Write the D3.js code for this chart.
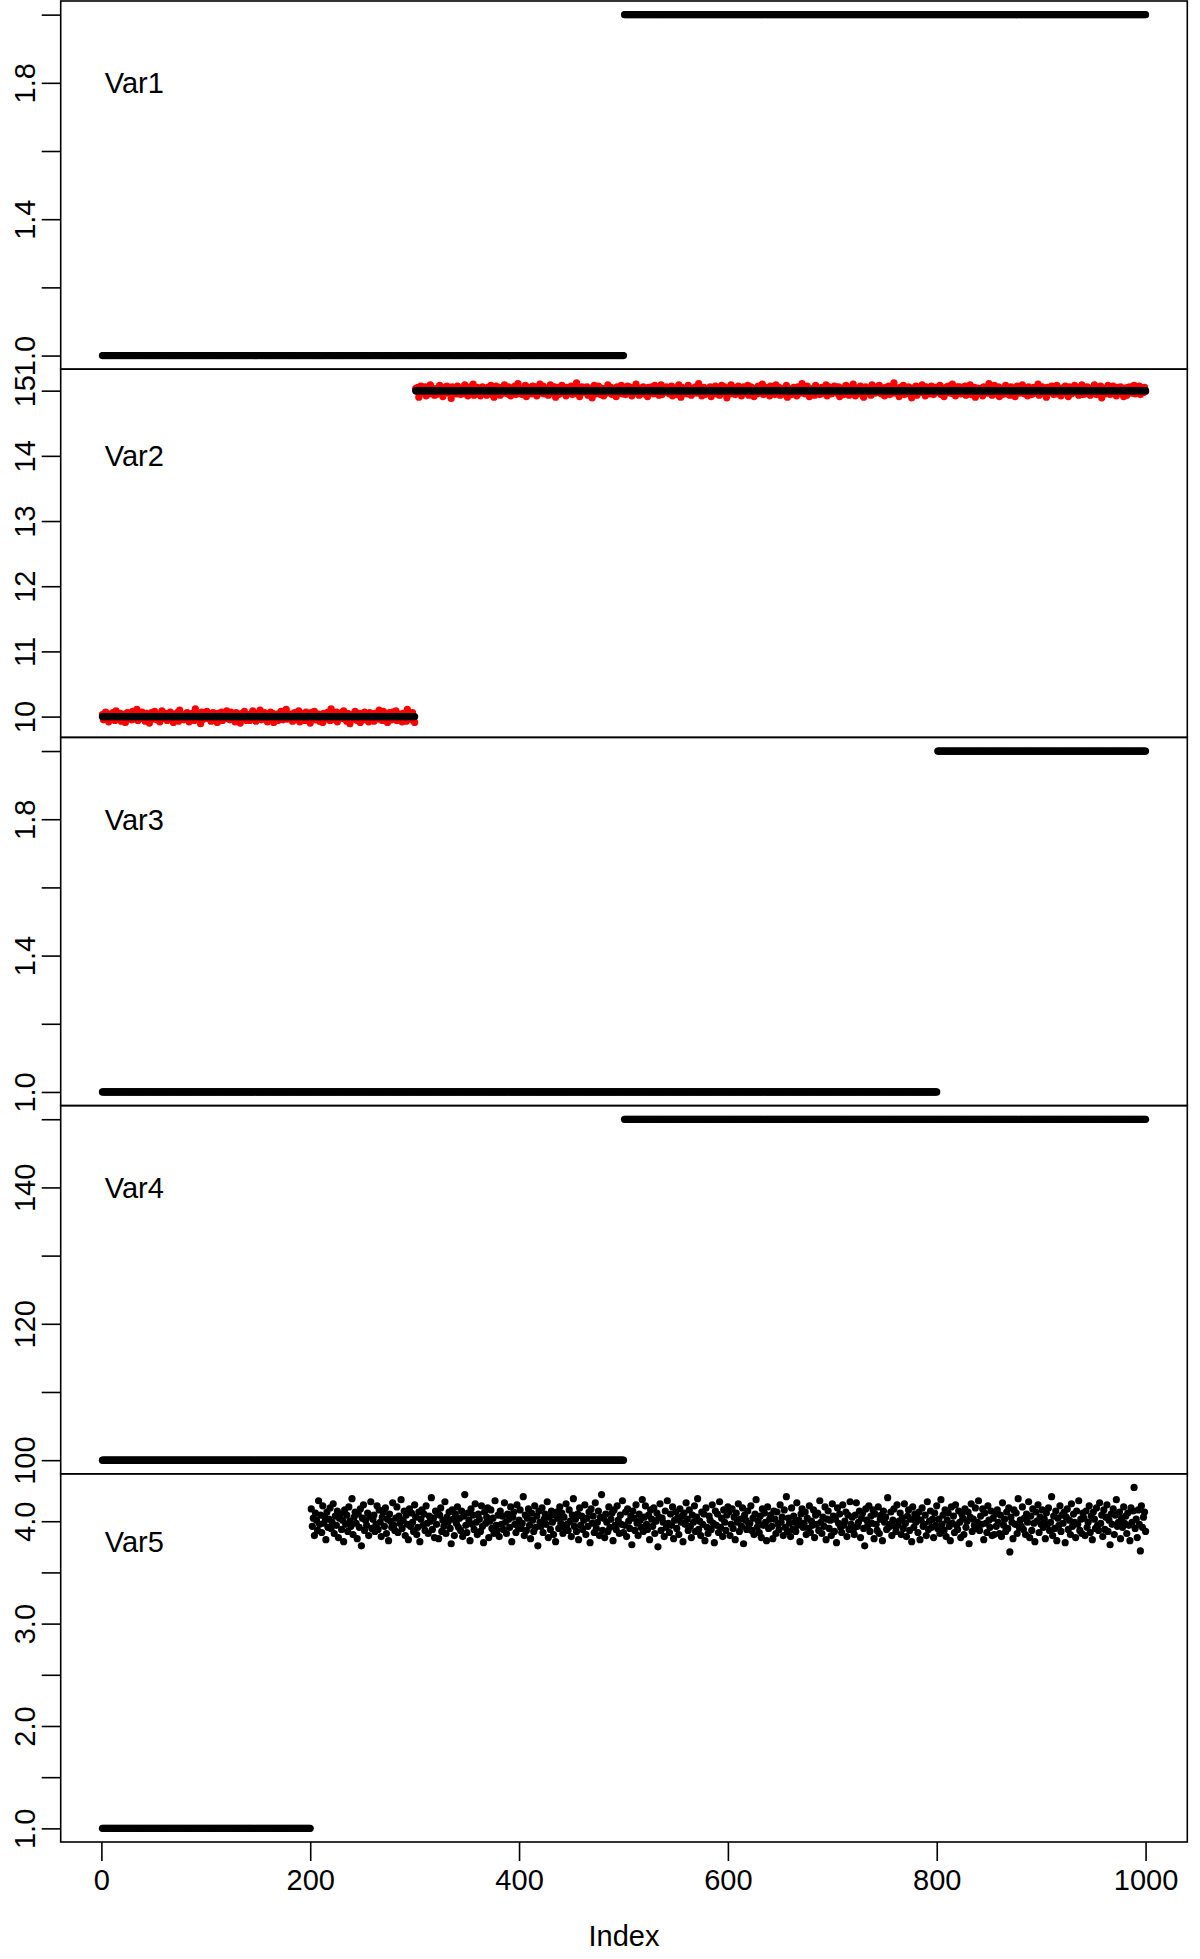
<!DOCTYPE html>
<html>
<head>
<meta charset="utf-8">
<script src="https://cdn.jsdelivr.net/npm/d3@7"></script>
<style>
  body { margin: 0; background: #fff; }
  text { font-family: "Liberation Sans", Arial, Helvetica, sans-serif; }
</style>
</head>
<body>
<div id="chart"></div>
<script>
const n = 1000;
const seriesNames = ['Var1', 'Var2', 'Var3', 'Var4', 'Var5'];

// runs of constant level: index where each run starts, and its value
const var1Starts = [1, 501], var1Levels = [1, 2];
const var2Starts = [1, 301], var2Levels = [10, 15];
const var3Starts = [1, 801], var3Levels = [1, 2];
const var4Starts = [1, 501], var4Levels = [100, 150];
const var5Starts = [1, 201], var5Levels = [1, 4];

// red overlay in Var2: offset from the level, in hundredths (index 1..1000)
const var2RedNoise = [
  3,-5,1,7,-2,0,-8,4,2,-3,6,-1,-6,9,1,-4,2,5,-7,0,
  -2,4,-9,1,6,-3,0,3,-5,8,-1,2,-4,11,-6,1,4,-2,7,-3,
  0,-7,5,2,-1,-10,3,6,-4,1,8,-2,-5,0,4,-8,2,9,-3,1,
  5,-1,-6,3,0,7,-4,2,-9,4,1,-3,6,-7,10,-2,0,3,-5,2,
  -4,6,1,-8,3,-2,5,0,-6,12,-1,4,-3,2,-11,7,-5,1,3,-2,
  8,-3,0,4,-7,2,6,-1,-4,3,-9,5,1,-2,7,-6,0,4,-3,9,
  -1,2,-5,7,0,-4,3,-8,6,1,-2,4,-10,2,5,-3,8,-1,-6,3,
  2,-6,4,0,9,-3,1,-7,5,-2,3,10,-5,0,-1,6,-4,2,-8,4,
  -3,7,-1,5,-9,2,0,4,-6,3,-2,8,1,-5,6,-3,11,-4,1,0,
  4,-2,-7,1,6,-5,3,-1,9,-8,2,5,-3,0,-6,7,1,-4,3,-10,
  6,0,-3,8,-5,2,-1,4,-7,3,0,-9,5,2,-4,1,7,-2,-6,12,
  -5,3,1,-2,7,-8,4,0,-3,6,-1,9,-4,2,-7,5,0,-11,3,1,
  2,-4,8,-1,-6,3,5,-9,0,4,-2,7,-5,1,3,-8,6,-3,2,-1,
  -7,5,0,3,-4,10,-2,1,-6,8,-3,0,4,-9,2,6,-1,-5,7,-2,
  1,9,-6,2,-3,4,0,-8,5,-1,3,-7,11,-4,0,2,-5,6,-2,-9,
  3,-1,5,-10,2,7,-4,1,-2,6,-8,3,0,-5,9,-3,4,1,-7,2,
  -6,4,-2,8,1,-3,-9,5,2,-1,7,-4,0,3,-12,6,-2,4,1,-5,
  7,-3,2,-6,4,0,-1,9,-5,3,-8,1,6,-2,-4,10,-7,2,0,5,
  -2,1,-8,4,6,-4,3,-1,-7,5,2,-3,8,-6,1,-10,4,7,-2,0,
  5,-7,3,0,-4,9,-1,2,-5,6,-3,-8,4,1,-2,7,-6,3,11,-4,
  0,4,-6,2,-1,8,-9,3,5,-2,1,-5,7,-3,0,6,-8,2,-4,10,
  -3,2,7,-5,1,-2,4,-7,0,9,-4,3,-1,6,-10,2,5,-6,1,-2,
  8,-1,-4,3,-8,5,0,2,-3,7,-6,1,4,-2,12,-5,3,-9,0,6,
  -1,5,-3,0,6,-7,2,-2,4,-11,3,8,-5,1,-3,7,-1,-6,4,2,
  -8,3,1,-4,9,-2,0,5,-6,2,-1,4,-9,6,3,-3,0,8,-5,1,
  4,-6,2,7,-1,-3,5,-8,1,3,-2,10,-4,0,-7,4,2,-1,6,-5,
  -4,1,-9,5,3,-2,6,-1,-5,8,0,-3,2,-7,4,9,-6,1,-2,3,
  6,-2,0,-5,3,7,-8,2,-1,4,-6,1,9,-3,-10,5,0,3,-4,-1,
  -5,8,-3,1,-7,2,4,-1,6,-4,0,11,-2,3,-8,1,5,-6,2,-3,
  1,-1,6,-9,4,0,-3,7,-5,2,3,-7,1,8,-2,-4,6,-1,-11,4,
  3,-5,9,-2,0,5,-6,1,-3,7,-1,4,-8,2,6,-4,0,-2,8,-7,
  -2,6,-1,4,-9,3,1,-5,7,0,-3,2,10,-6,1,-4,5,-1,3,-8,
  7,0,-4,2,-6,9,-3,1,5,-7,2,-1,-5,4,0,8,-10,3,-2,1,
  -6,3,5,-1,2,-8,6,0,-4,1,11,-3,4,-5,-2,7,1,-9,3,0,
  2,-3,-7,8,1,-2,4,-6,0,5,-4,3,-1,9,-8,2,6,-3,-5,4,
  -1,7,0,-4,3,6,-9,2,-2,4,-6,1,8,-3,0,-7,5,2,-1,10,
  5,-8,3,1,-5,0,7,-2,4,-10,2,6,-4,1,-1,3,-7,9,-3,0,
  -4,2,6,-3,8,-1,-5,4,0,-8,5,-2,1,7,-6,3,-1,-3,12,-4,
  1,4,-2,-9,5,2,-4,8,-6,0,3,-1,6,-5,2,-11,4,1,-3,7,
  -7,5,1,-3,0,9,-2,3,-8,6,-1,2,-5,4,7,-3,-6,1,5,-2,
  3,-2,8,-6,1,4,-9,0,5,-3,7,-1,-4,2,10,-5,3,-8,0,6,
  -1,6,-5,2,-3,0,7,-7,4,1,-2,9,-6,3,-1,5,-10,2,4,-4,
  0,-3,4,-8,6,2,-1,5,-4,11,-2,1,-7,3,8,-5,0,-2,6,-9,
  4,1,-6,3,-2,8,-5,0,2,-7,6,-3,1,4,-9,2,7,-1,-4,5,
  -3,9,-1,-5,4,0,-8,6,-2,3,-6,1,5,-4,2,-1,10,-7,3,0,
  6,-4,2,1,-10,5,-1,3,-3,7,0,-6,4,-2,8,-5,1,2,-8,4,
  -2,0,7,-4,3,-9,6,1,-5,2,-1,8,-3,0,5,-7,4,-2,9,-6,
  2,-5,1,6,-2,4,-7,3,0,-4,9,-1,-6,5,1,-3,7,-11,2,3,
  -5,3,-2,8,0,-6,4,-1,7,-3,2,-8,5,1,-4,6,-2,0,-9,4,
  1,-7,5,-3,6,2,-4,0,8,-5,3,-1,-2,7,-6,4,1,-3,5,-1
];

// Var5 scatter from index 201 on: offset from 4.0, in hundredths
const var5Noise = [
  12,-5,3,-14,8,1,-9,20,-3,6,-11,15,-2,4,-18,9,-6,2,13,-7,
  -1,17,-12,5,-4,10,-16,3,7,-8,1,-20,11,-3,6,-10,14,0,-5,22,
  -13,4,9,-2,-17,7,-6,12,-24,3,16,-9,1,-4,8,-14,5,19,-7,2,
  6,-10,-3,15,-8,11,-1,-15,4,9,-5,13,-12,2,-19,7,0,-6,18,-4,
  -9,3,14,-11,5,-2,21,-7,1,10,-14,6,-3,-18,12,-5,8,-1,-10,16,
  4,-13,-6,9,-20,2,11,-4,7,-9,15,-2,-12,5,0,23,-8,3,-16,10,
  -3,8,-17,6,13,-10,1,-5,19,-12,4,-1,9,-7,-22,11,2,-14,7,-2,
  14,-6,3,-9,10,-15,5,26,-4,-11,8,1,-19,12,-3,6,-8,17,-1,-13,
  7,2,-10,15,-5,-21,9,-2,4,13,-16,0,11,-7,3,-12,20,-4,-9,6,
  -15,10,-3,5,-8,18,-1,-12,7,2,-6,14,-20,4,9,-3,-11,16,-5,1,
  11,-7,-2,24,-14,6,-9,3,12,-4,-17,8,1,-10,15,-6,5,-24,10,-1,
  -5,13,-11,2,7,-3,19,-16,4,-8,10,-1,-13,6,-20,9,3,-7,14,-2,
  8,-12,4,-6,17,-3,-9,11,0,-15,6,22,-5,2,-10,7,-18,13,-4,5,
  -8,1,16,-13,3,-5,9,-21,12,-2,5,-11,18,-7,-1,10,-14,4,26,-9,
  3,-16,7,-1,-10,14,-6,2,8,-19,11,-4,-8,15,1,-12,6,-3,20,-11,
  -4,9,-15,12,0,-7,5,-23,10,3,-9,16,-2,-14,7,1,-6,21,-10,4,
  15,-3,-8,6,-18,11,2,-5,13,-12,0,8,-25,4,17,-9,3,-1,-15,10,
  -6,20,-2,-11,7,-4,14,-17,1,9,-7,3,-13,12,-1,5,-20,8,-3,18,
  2,-9,11,-5,-16,6,-1,15,-10,4,22,-8,0,-14,9,-3,7,-19,13,-6,
  -12,5,1,-8,16,-2,-21,10,-4,7,-11,19,-6,3,-15,11,-1,-9,6,14,
  9,-14,-3,12,-7,4,-18,8,-1,17,-10,2,-5,13,-22,6,1,-8,10,-3,
  -2,15,-9,3,-13,7,21,-6,0,-11,5,-16,12,-4,8,-1,-19,14,-7,2,
  6,-5,-17,10,2,-12,9,-3,-8,16,-1,4,-14,11,-6,24,-10,3,-2,-15,
  13,-8,5,-1,-10,18,-4,1,-20,7,12,-6,-2,9,-13,3,-7,15,-11,0,
  -4,11,-16,6,-3,8,-9,20,-1,-12,4,-5,14,-18,2,10,-7,1,-14,17,
  5,-10,2,-21,13,-2,7,-6,-11,16,-4,0,9,-15,6,-8,19,-3,4,-9,
  -13,6,18,-5,-1,10,-16,3,8,-7,-24,12,1,-4,15,-10,5,-2,11,-17,
  7,-3,-9,14,-12,2,6,-19,10,-1,4,-8,23,-6,-3,9,-14,1,12,-5,
  -10,16,-4,0,8,-13,3,-7,17,-2,-15,5,11,-9,2,-20,14,-6,7,-1,
  4,-11,9,-18,1,13,-5,-3,6,-14,19,-8,0,10,-6,2,-16,8,-4,15,
  -7,2,-12,21,-3,6,-9,11,-15,1,8,-5,-19,14,-2,5,-11,16,-4,-8,
  10,-1,-16,7,3,-13,12,-6,0,9,-22,4,17,-10,2,-4,13,-7,-1,20,
  -9,5,-3,12,-18,8,-2,-11,15,1,-6,10,-14,3,-13,7,-5,11,-1,-12,
  6,-15,18,-4,2,-10,9,-7,13,-30,4,-1,-17,11,-3,8,-12,22,-6,1,
  -5,14,-8,3,-13,7,-1,19,-16,5,-9,12,-2,-20,9,0,16,-11,4,-3,
  11,-6,2,-17,8,-3,13,-9,-1,24,-14,5,-7,10,-19,3,-4,15,-10,6,
  -2,9,-21,4,12,-8,1,-13,17,-5,7,-1,-16,10,-3,20,-9,2,-12,8,
  3,-14,10,-6,-1,15,-11,5,-18,9,2,-7,13,-4,-9,18,-2,6,-15,11,
  -8,4,16,-10,1,-23,7,-3,12,-13,6,21,-5,-1,9,-17,3,-6,14,-2,
  5,-12,8,-4,-19,13,-1,10,33,-7,2,-16,11,-3,-29,15,-6,4,9,-10
];

const yTicks = [
  [1, 1.2, 1.4, 1.6, 1.8, 2],
  [10, 11, 12, 13, 14, 15],
  [1, 1.2, 1.4, 1.6, 1.8, 2],
  [100, 110, 120, 130, 140, 150],
  [1, 1.5, 2, 2.5, 3, 3.5, 4]
];
const yTickLabels = [
  [1, 1.4, 1.8],
  [10, 11, 12, 13, 14, 15],
  [1, 1.4, 1.8],
  [100, 120, 140],
  [1, 2, 3, 4]
];
const yTickFormats = ['.1f', 'd', '.1f', 'd', '.1f'];
const nameAt = [1.8, 14, 1.8, 140, 3.8];
const xTicks = [0, 200, 400, 600, 800, 1000];

const width = 1200, height = 1959,
      plotLeft = 60.7, plotRight = 1187.3,
      plotTop = 1, plotBottom = 1842,
      panelH = (plotBottom - plotTop) / seriesNames.length,
      fontSize = 29,
      radius = 3.6;

const index = d3.range(1, n + 1);
const expand = (starts, levels) => index.map(i => levels[d3.bisectRight(starts, i) - 1]);

const var1 = expand(var1Starts, var1Levels);
const var2 = expand(var2Starts, var2Levels);
const var2Red = var2.map((v, i) => v + (var2RedNoise[i] ?? 0) / 100);
const var3 = expand(var3Starts, var3Levels);
const var4 = expand(var4Starts, var4Levels);
const var5 = expand(var5Starts, var5Levels)
  .map((v, i) => i + 1 >= var5Starts[1] ? v + (var5Noise[i + 1 - var5Starts[1]] ?? 0) / 100 : v);

const panels = [
  {black: var1, red: null},
  {black: var2, red: var2Red},
  {black: var3, red: null},
  {black: var4, red: null},
  {black: var5, red: null}
];

// R style: data range padded 4% each side
const pad = ([lo, hi]) => [lo - 0.04 * (hi - lo), hi + 0.04 * (hi - lo)];

const x = d3.scaleLinear()
  .domain(pad([1, n]))
  .range([plotLeft, plotRight]);

const svg = d3.select('#chart')
  .append('svg')
    .attr('width', width)
    .attr('height', height);

panels.forEach((p, k) => {
  let top = plotTop + k * panelH,
      all = p.red ? p.black.concat(p.red) : p.black,
      y = d3.scaleLinear()
            .domain(pad(d3.extent(all)))
            .range([top + panelH, top]),
      fmt = d3.format(yTickFormats[k]),
      g = svg.append('g').attr('class', 'panel');

  // red overlay first, black points on top
  if (p.red) {
    g.append('g')
      .selectAll('circle')
      .data(p.red)
      .enter()
        .append('circle')
          .attr('cx', (d, i) => x(index[i]))
          .attr('cy', d => y(d))
          .attr('r', radius)
          .attr('fill', '#ff0000');
  }
  g.append('g')
    .selectAll('circle')
    .data(p.black)
    .enter()
      .append('circle')
        .attr('cx', (d, i) => x(index[i]))
        .attr('cy', d => y(d))
        .attr('r', radius)
        .attr('fill', '#000');

  g.append('rect')
    .attr('x', plotLeft)
    .attr('y', top)
    .attr('width', plotRight - plotLeft)
    .attr('height', panelH)
    .attr('fill', 'none')
    .attr('stroke', '#000')
    .attr('stroke-width', 1.6);

  let yAxis = d3.axisLeft(y)
    .tickValues(yTicks[k])
    .tickSize(19)
    .tickSizeOuter(0)
    .tickFormat(t => yTickLabels[k].includes(t) ? fmt(t) : '');

  let ax = g.append('g')
    .attr('transform', `translate(${plotLeft},0)`)
    .call(yAxis);
  ax.select('.domain').remove();
  ax.selectAll('line').attr('stroke', '#000').attr('stroke-width', 1.6);
  ax.selectAll('text')
    .attr('x', 0)
    .attr('dy', 0)
    .attr('text-anchor', 'middle')
    .attr('transform', 'translate(-26,0) rotate(-90)')
    .style('font-size', fontSize + 'px')
    .style('font-family', '"Liberation Sans", Arial, sans-serif')
    .attr('fill', '#000');

  // series name
  g.append('text')
    .attr('x', plotLeft + 44)
    .attr('y', y(nameAt[k]))
    .attr('dy', '0.36em')
    .style('font-size', fontSize + 'px')
    .text(seriesNames[k]);
});

let xAxis = d3.axisBottom(x)
  .tickValues(xTicks)
  .tickFormat(d3.format('d'))
  .tickSize(19)
  .tickSizeOuter(0)
  .tickPadding(8);

let xg = svg.append('g')
  .attr('transform', `translate(0,${plotBottom})`)
  .call(xAxis);
xg.select('.domain').remove();
xg.selectAll('line').attr('stroke', '#000').attr('stroke-width', 1.6);
xg.selectAll('text')
  .style('font-size', fontSize + 'px')
  .style('font-family', '"Liberation Sans", Arial, sans-serif')
  .attr('fill', '#000');

// x axis title
svg.append('text')
  .attr('x', (plotLeft + plotRight) / 2)
  .attr('y', 1946)
  .attr('text-anchor', 'middle')
  .style('font-size', fontSize + 'px')
  .text('Index');
</script>
</body>
</html>
